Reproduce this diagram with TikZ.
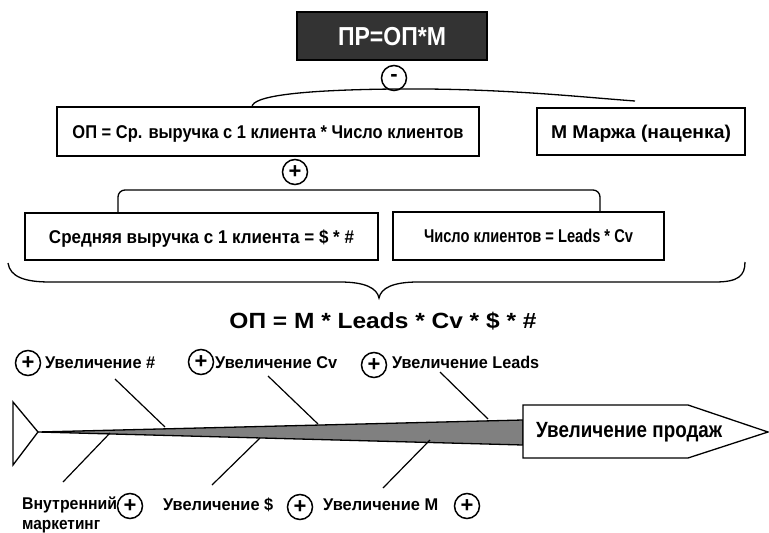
\documentclass[tikz,border=0pt]{standalone}
\usepackage{fontspec}
\setmainfont{Liberation Sans}
\usepackage{graphicx}
\newcommand\fitw[2]{\resizebox{#1pt}{\height}{#2}}
\definecolor{darkbox}{RGB}{51,51,51}
\definecolor{spine}{RGB}{128,128,128}
\tikzset{
  box/.style={draw, line width=1.3pt, inner sep=0pt},
  boxtxt/.style={font=\bfseries\fontsize{18.5}{21}\selectfont, text height=13.2pt, text depth=0pt},
  lbl/.style={inner sep=0pt, font=\bfseries\fontsize{17}{19}\selectfont, text height=12.2pt, text depth=0pt},
  bigtxt/.style={inner sep=0pt, font=\bfseries\fontsize{22}{24}\selectfont, text height=15.8pt, text depth=0pt},
  sign/.style={draw, circle, line width=1.5pt, minimum size=25pt, inner sep=0pt, font=\bfseries\fontsize{22}{22}\selectfont},
  bone/.style={line width=1.2pt},
  brace/.style={line width=1.3pt}
}
\begin{document}
\begin{tikzpicture}[x=1pt,y=-1pt]
\useasboundingbox (0,0) rectangle (769,533);
% top formula box
\node[box, fill=darkbox, text=white, minimum width=190pt, minimum height=48pt,
      font=\bfseries\fontsize{26}{28}\selectfont, text height=18.6pt, text depth=0pt] (pr) at (392,36) {\fitw{108}{ПР=ОП*М}};
\node[sign] (minus) at (394,78) {-};
% arc under minus
\draw[brace] (252,107) .. controls (252,96) and (300,90) .. (394,89)
  .. controls (500,88) and (580,97) .. (635,101);
% second row
\node[box, boxtxt, minimum width=422pt, minimum height=49pt] (op) at (268,131.5) {\fitw{391}{ОП = Ср. выручка с 1 клиента * Число клиентов}};
\node[box, boxtxt, minimum width=208pt, minimum height=47pt] (m) at (641,131.5) {\fitw{180}{М Маржа (наценка)}};
\node[sign] (plus0) at (295,172) {+};
% bracket
\draw[brace, rounded corners=7pt] (118,212) -- (118,190) -- (600,190) -- (600,212);
% third row
\node[box, boxtxt, minimum width=353pt, minimum height=47pt] (avg) at (201.5,236.5) {\fitw{305}{Средняя выручка с 1 клиента = \$ * \#}};
\node[box, boxtxt, minimum width=271pt, minimum height=48pt] (cnt) at (528.5,236) {\fitw{209}{Число клиентов = Leads * Cv}};
% big brace
\draw[brace] (8,263) .. controls (10,277) and (25,282) .. (50,282) -- (340,282)
  .. controls (365,282) and (377,288) .. (379,298)
  .. controls (381,288) and (393,282) .. (418,282) -- (715,282)
  .. controls (738,282) and (745,276) .. (745,262);
\node[bigtxt] (formula) at (383,321) {\fitw{307}{ОП = М * Leads * Cv * \$ * \#}};
% fishbone
\draw[line width=1.3pt] (13,402) -- (38,432) -- (13,465) -- cycle;
\draw[line width=1.3pt, fill=spine] (38,432) -- (523,420) -- (523,445) -- cycle;
\coordinate (b1a) at (115,379); \coordinate (b1b) at (165,427);
\coordinate (b2a) at (268,376); \coordinate (b2b) at (318,424);
\coordinate (b3a) at (440,372); \coordinate (b3b) at (488,419);
\coordinate (b4a) at (110,433); \coordinate (b4b) at (63,482);
\coordinate (b5a) at (260,438); \coordinate (b5b) at (212,485);
\coordinate (b6a) at (430,440); \coordinate (b6b) at (383,488);
\draw[bone] (b1a) -- (b1b);
\draw[bone] (b2a) -- (b2b);
\draw[bone] (b3a) -- (b3b);
\draw[bone] (b4a) -- (b4b);
\draw[bone] (b5a) -- (b5b);
\draw[bone] (b6a) -- (b6b);
\draw[line width=1.3pt, fill=white] (523,405) -- (688,405) -- (768,432) -- (688,458) -- (523,458) -- cycle;
\node[bigtxt, anchor=west] (head) at (536,430) {\fitw{186}{Увеличение продаж}};
% upper labels
\node[sign] (p1) at (28,363) {+};
\node[lbl, anchor=west] (l1) at (45,362) {\fitw{110}{Увеличение \#}};
\node[sign] (p2) at (201,362) {+};
\node[lbl, anchor=west] (l2) at (215,362) {\fitw{122}{Увеличение Cv}};
\node[sign] (p3) at (374,365) {+};
\node[lbl, anchor=west] (l3) at (392,362) {\fitw{147}{Увеличение Leads}};
% lower labels
\node[lbl, anchor=west] (l4) at (22,503) {\fitw{95}{Внутренний}};
\node[lbl, anchor=west] (l4b) at (22,523) {\fitw{78}{маркетинг}};
\node[sign] (p4) at (130,506) {+};
\node[lbl, anchor=west] (l5) at (163,504) {\fitw{110}{Увеличение \$}};
\node[sign] (p5) at (300,507) {+};
\node[lbl, anchor=west] (l6) at (323,504) {\fitw{115}{Увеличение М}};
\node[sign] (p6) at (467,506) {+};
\end{tikzpicture}
\end{document}
